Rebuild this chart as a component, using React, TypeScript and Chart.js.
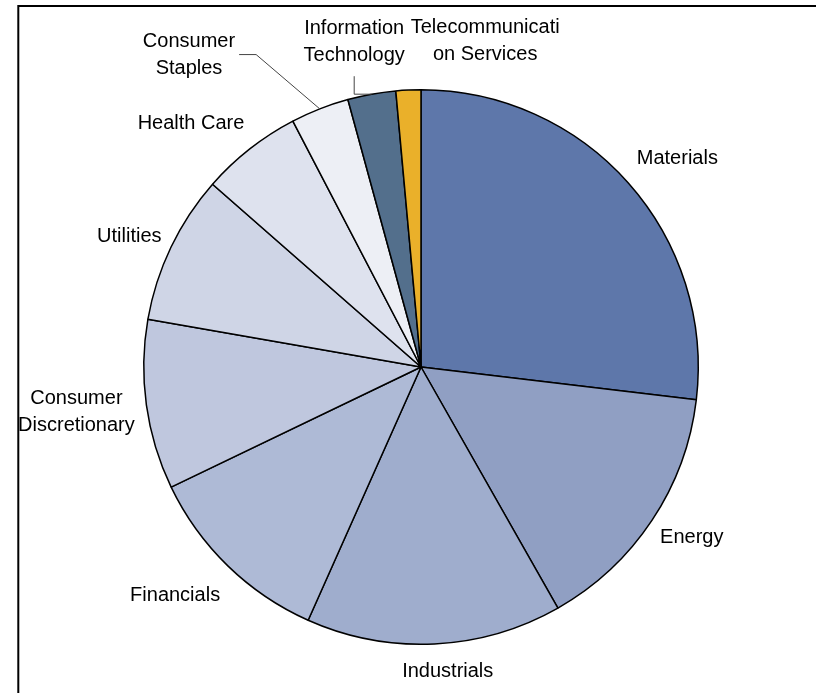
import React, { useEffect, useRef } from "react";
import { Chart, registerables } from "chart.js";

Chart.register(...registerables);

const categories = [
  "Materials",
  "Energy",
  "Industrials",
  "Financials",
  "Consumer Discretionary",
  "Utilities",
  "Health Care",
  "Consumer Staples",
  "Information Technology",
  "Telecommunication Services",
];

const weights = [26.9, 14.9, 14.9, 11.2, 9.9, 8.7, 5.9, 3.4, 2.8, 1.45];

const labelLines = [
  ["Materials"],
  ["Energy"],
  ["Industrials"],
  ["Financials"],
  ["Consumer", "Discretionary"],
  ["Utilities"],
  ["Health Care"],
  ["Consumer", "Staples"],
  ["Information", "Technology"],
  ["Telecommunicati", "on Services"],
];

const sliceColors = [
  "#5E77AA",
  "#909FC3",
  "#9FADCD",
  "#AEBAD6",
  "#BFC7DE",
  "#CFD5E6",
  "#DEE2EE",
  "#EDEFF5",
  "#536F8C",
  "#EAB02A",
];

// label placement: distance beyond the pie edge (px) and angular nudge (deg)
const labelGap = [54, 42, 27, 57.5, 70, 43, 58.5, 112.7, 56.3, 56.3];
const labelShift = [2.3, -1.6, -2.25, 3.1, 0.75, -1.2, -5.1, -15.1, -1.3, 13.7];
const labelLeader = ["", "", "", "", "", "", "", "side", "below", ""];

const FONT = '20px "Liberation Sans", Arial, sans-serif';
const LINE_H = 27;

const labelPlugin = {
  id: "outsideLabels",
  afterDraw(chart: any) {
    const ctx = chart.ctx;
    ctx.save();
    // frame
    ctx.strokeStyle = "#000";
    ctx.lineWidth = 2;
    ctx.strokeRect(18.3, 6, 1000, 1000);

    const meta = chart.getDatasetMeta(0);
    ctx.font = FONT;
    ctx.fillStyle = "#000";
    ctx.textAlign = "center";
    ctx.textBaseline = "alphabetic";
    meta.data.forEach((arc: any, i: number) => {
      const { x, y, startAngle, endAngle, outerRadius } = arc.getProps(
        ["x", "y", "startAngle", "endAngle", "outerRadius"],
        true
      );
      const mid = (startAngle + endAngle) / 2;
      const a = mid + (labelShift[i] * Math.PI) / 180;
      const d = outerRadius + labelGap[i];
      const cx = x + d * Math.cos(a);
      const cy = y + d * Math.sin(a);
      const lines = labelLines[i];
      const n = lines.length;
      const first = cy - ((n - 1) * LINE_H) / 2 + 7;
      let maxW = 0;
      lines.forEach((t, k) => {
        ctx.fillText(t, cx, first + k * LINE_H);
        maxW = Math.max(maxW, ctx.measureText(t).width);
      });
      const px = x + outerRadius * Math.cos(mid);
      const py = y + outerRadius * Math.sin(mid);
      if (labelLeader[i] === "side") {
        ctx.beginPath();
        ctx.strokeStyle = "#444";
        ctx.lineWidth = 1;
        const sx = cx + maxW / 2 + 4;
        ctx.moveTo(sx, cy + 1);
        ctx.lineTo(sx + 17, cy + 1);
        ctx.lineTo(px, py);
        ctx.stroke();
      } else if (labelLeader[i] === "below") {
        ctx.beginPath();
        ctx.strokeStyle = "#444";
        ctx.lineWidth = 1;
        ctx.moveTo(cx, cy + 36);
        ctx.lineTo(cx, py);
        ctx.lineTo(px, py);
        ctx.stroke();
      }
    });
    ctx.restore();
  },
};

export default function App() {
  const ref = useRef<HTMLCanvasElement | null>(null);
  useEffect(() => {
    if (!ref.current) return;
    const chart = new Chart(ref.current, {
      type: "pie",
      data: {
        labels: categories,
        datasets: [
          {
            data: weights,
            backgroundColor: sliceColors,
            borderColor: "#000",
            borderWidth: 1.5,
          },
        ],
      },
      options: {
        responsive: false,
        animation: false,
        layout: { padding: { left: 143, right: 117, top: 89, bottom: 48 } },
        plugins: {
          legend: { display: false },
          tooltip: { enabled: false },
        },
      },
      plugins: [labelPlugin],
    });
    return () => chart.destroy();
  }, []);
  return (
    <div
      style={{
        position: "absolute",
        left: 0,
        top: 0,
        width: 816,
        height: 693,
        background: "#fff",
      }}
    >
      <canvas ref={ref} width={816} height={693} />
    </div>
  );
}
